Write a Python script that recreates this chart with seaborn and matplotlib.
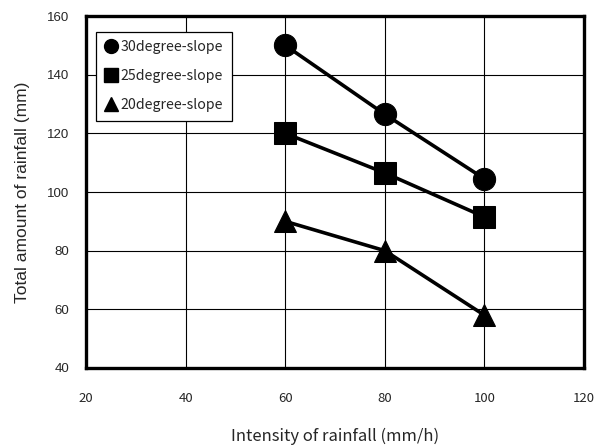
import matplotlib
matplotlib.use("Agg")
import matplotlib.pyplot as plt
import seaborn as sns
import pandas as pd
from matplotlib.lines import Line2D

# Rainfall intensity (mm/h) and total rainfall until failure (mm) per slope angle
intensity = [60, 80, 100]
slope_30 = [150, 126.5, 104.5]
slope_25 = [120, 106.5, 91.5]
slope_20 = [90, 80, 58]
series_names = ["30degree-slope", "25degree-slope", "20degree-slope"]
series_markers = ["o", "s", "^"]
x_ticks = [20, 40, 60, 80, 100, 120]
y_ticks = [40, 60, 80, 100, 120, 140, 160]

df = pd.DataFrame({
    "intensity": intensity * 3,
    "total": slope_30 + slope_25 + slope_20,
    "slope": [n for n in series_names for _ in intensity],
})

sns.set_style("white")
plt.rcParams["font.family"] = ["Liberation Sans", "DejaVu Sans"]
jp = ["Noto Sans CJK JP", "DejaVu Sans"]

fig = plt.figure(figsize=(6.08, 4.46), dpi=100)
ax = fig.add_axes([86 / 608, 1 - 368 / 446, (584 - 86) / 608, (368 - 16) / 446])

sns.lineplot(
    data=df, x="intensity", y="total", style="slope",
    markers=dict(zip(series_names, series_markers)), dashes=False,
    color="black", markersize=16, linewidth=2.6,
    markeredgecolor="black", legend=False, ax=ax, zorder=3,
)

ax.set_xlim(x_ticks[0], x_ticks[-1])
ax.set_ylim(y_ticks[0], y_ticks[-1])
ax.set_xticks(x_ticks)
ax.set_yticks(y_ticks)
ax.grid(True, color="black", linewidth=0.8)
ax.tick_params(axis="both", length=0)
for lab in ax.get_xticklabels():
    lab.set_fontfamily(jp)
    lab.set_fontsize(9.5)
for lab in ax.get_yticklabels():
    lab.set_fontsize(9.5)
ax.tick_params(axis="x", pad=17)
ax.tick_params(axis="y", pad=12)

for sp in ax.spines.values():
    sp.set_visible(True)
    sp.set_color("black")
    sp.set_linewidth(2.4)

ax.set_xlabel("Intensity of rainfall (mm/h)", fontsize=12, family=jp, va="center")
ax.xaxis.set_label_coords(0.5, -0.195)
ax.set_ylabel("Total amount of rainfall (mm)", fontsize=12.5, labelpad=12)

handles = [Line2D([], [], linestyle="none", marker=m, color="black",
                  markersize=10) for m in series_markers]
leg = ax.legend(handles, series_names, loc="upper left",
                bbox_to_anchor=(0.02, 0.955), fancybox=False, framealpha=1,
                edgecolor="black", handlelength=0.9, handletextpad=0.25,
                borderpad=0.6, labelspacing=1.05, borderaxespad=0,
                prop={"family": jp, "size": 10.2})
leg.get_frame().set_linewidth(0.9)

fig.savefig("out.png", dpi=100)
